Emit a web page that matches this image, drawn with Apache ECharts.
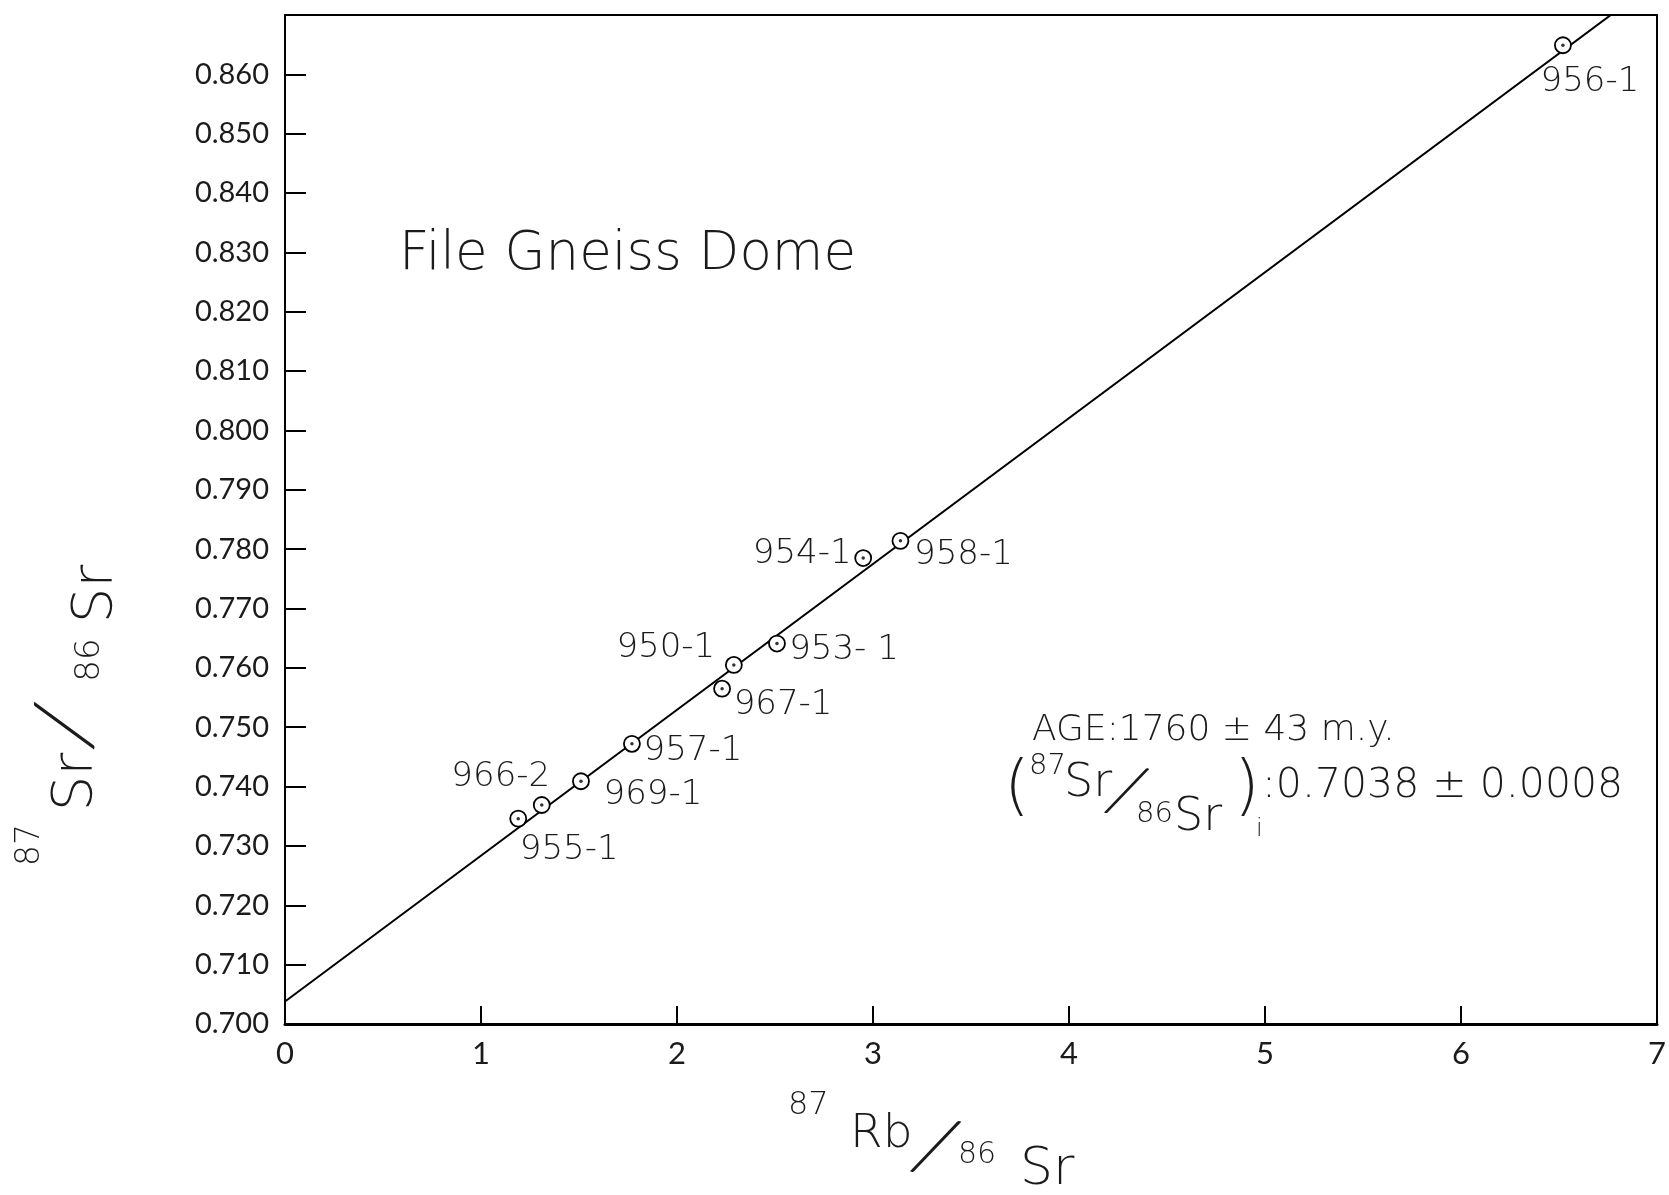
<!DOCTYPE html>
<html>
<head>
<meta charset="utf-8">
<script src="https://cdn.jsdelivr.net/npm/echarts@6/dist/echarts.min.js"></script>
<style>
html,body{margin:0;padding:0;background:#fff;}
#chart{width:1669px;height:1195px;}
</style>
</head>
<body>
<div id="chart"></div>
<script>
// ---- data ----
const sampleNames = ['955-1','966-2','969-1','957-1','967-1','950-1','953- 1','954-1','958-1','956-1'];
const rbSr = [1.19, 1.31, 1.51, 1.77, 2.23, 2.29, 2.51, 2.95, 3.14, 6.52];
const srSr = [0.7346, 0.7369, 0.7409, 0.7472, 0.7565, 0.7605, 0.7641, 0.7785, 0.7814, 0.8649];
const isochronX = [0, 7];
const isochronY = [0.7038, 0.8758];
const xTickLabels = ['0','1','2','3','4','5','6','7'];
const yTickLabels = ['0.700','0.710','0.720','0.730','0.740','0.750','0.760','0.770','0.780',
                     '0.790','0.800','0.810','0.820','0.830','0.840','0.850','0.860'];

// ---- layout (label offsets in px) ----
const labelOffsets = [[51,32],[-41,-28],[72,14],[61,7],[61,17],[-68,-17],[67,7],[-61,-4],[63,14],[27,37]];

const TICKFONT = 'Lato';
const FONT = '"DejaVu Sans"';
const INK = '#1b1b1b';

const chart = echarts.init(document.getElementById('chart'), null, {renderer:'canvas'});

const pts = sampleNames.map((n,i)=>({
  name:n, value:[rbSr[i], srSr[i]],
  label:{offset:labelOffsets[i]}
}));

function txt(t, x, y, size, opts){
  opts = opts || {};
  return {
    type:'text', x:x, y:y, rotation:opts.rotation||0, scaleX:opts.scaleX||1, scaleY:opts.scaleY||1,
    z:100,
    style:{text:t, fill:INK, font:(opts.weight||200)+' '+size+'px '+(opts.family||FONT),
      align:opts.align||'left', verticalAlign:'middle'}
  };
}
const SL = {align:'center', family:'Lato', weight:300};
const R90 = Math.PI/2;

const graphics = [
  txt('File Gneiss Dome', 399, 255, 53),
  txt('AGE:1760 \u00b1 43 m.y.', 1032, 731, 36),
  // (87Sr/86Sr)i : 0.7038 ± 0.0008
  txt('(', 1004, 790, 66),
  txt('87', 1029, 766, 29),
  txt('Sr', 1064, 784, 46),
  txt('/', 1126, 792, 74, Object.assign({rotation:-0.37}, SL)),
  txt('86', 1136, 814, 29),
  txt('Sr', 1174, 818, 46),
  txt(')', 1234, 790, 66),
  txt('i', 1256, 830, 24),
  txt(':0.7038 \u00b1 0.0008', 1262, 786, 41),
  // x axis title
  txt('87', 788, 1106, 32),
  txt('Rb', 850, 1135, 47),
  txt('/', 935, 1148, 84, Object.assign({rotation:-0.37}, SL)),
  txt('86', 958, 1155, 30),
  txt('Sr', 1020, 1170, 52),
  // y axis title (rotated)
  txt('87', 30, 845, 33, {align:'center', rotation:R90}),
  txt('Sr', 76, 782, 56, {align:'center', rotation:R90}),
  txt('/', 66, 726, 90, Object.assign({}, SL, {rotation:R90-0.24})),
  txt('86', 90, 660, 34, {align:'center', rotation:R90}),
  txt('Sr', 96, 594, 56, {align:'center', rotation:R90})
];

chart.setOption({
  backgroundColor:'#fff',
  animation:false,
  grid:{left:285, right:9, top:15, bottom:171, show:true, borderColor:'#000', borderWidth:2, backgroundColor:'transparent'},
  xAxis:{
    type:'value', min:0, max:7, interval:1,
    axisLine:{show:true, lineStyle:{color:'#000', width:3}},
    axisTick:{show:true, inside:true, length:18, lineStyle:{color:'#000', width:2}},
    splitLine:{show:false},
    axisLabel:{color:INK, fontFamily:TICKFONT, fontWeight:400, fontSize:31, margin:14,
      formatter:(v)=>xTickLabels[Math.round(v)]||''}
  },
  yAxis:{
    type:'value', min:0.70, max:0.87, interval:0.01,
    axisLine:{show:true, lineStyle:{color:'#000', width:2}},
    axisTick:{show:true, inside:true, length:21, lineStyle:{color:'#000', width:2}},
    splitLine:{show:false},
    axisLabel:{color:INK, fontFamily:TICKFONT, fontWeight:400, fontSize:29, margin:16,
      formatter:(v)=>{const i=Math.round((v-0.70)*100); return yTickLabels[i]||'';}}
  },
  series:[
    {type:'line', data:isochronX.map((x,i)=>[x, isochronY[i]]), symbol:'none', clip:true,
     lineStyle:{color:'#000', width:2}, z:1, silent:true},
    {type:'scatter', data:pts, symbol:'circle', symbolSize:16, z:3,
     itemStyle:{color:'#fff', borderColor:'#000', borderWidth:1.8, opacity:1},
     label:{show:true, position:'inside', formatter:'{b}', color:INK, fontFamily:'DejaVu Sans',
       fontWeight:200, fontSize:34, align:'center', verticalAlign:'middle'}},
    {type:'scatter', data:rbSr.map((x,i)=>[x, srSr[i]]), symbol:'circle', symbolSize:3.5, z:4,
     itemStyle:{color:'#000'}, silent:true}
  ],
  graphic:graphics
});
</script>
</body>
</html>
